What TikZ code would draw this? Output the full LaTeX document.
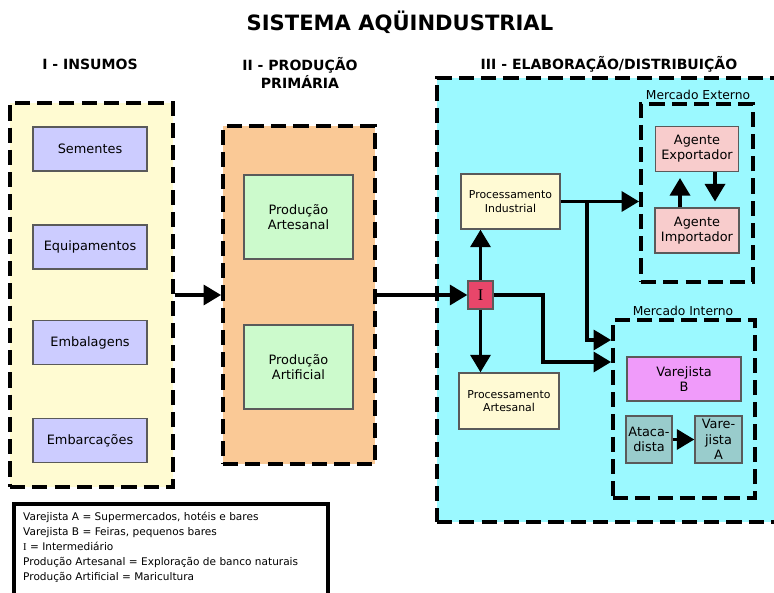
\documentclass[tikz,border=0pt]{standalone}
\usepackage{fontspec}
\setmainfont{DejaVu Sans}
\newfontfamily\romanI{Liberation Serif}
\usetikzlibrary{positioning,arrows.meta}
\definecolor{insumobg}{RGB}{255,251,210}
\definecolor{insumobox}{RGB}{204,204,255}
\definecolor{primbg}{RGB}{250,201,150}
\definecolor{primbox}{RGB}{204,250,204}
\definecolor{elabbg}{RGB}{155,249,255}
\definecolor{procbox}{RGB}{255,250,212}
\definecolor{interred}{RGB}{232,70,106}
\definecolor{agentbox}{RGB}{248,204,204}
\definecolor{varbbox}{RGB}{240,155,250}
\definecolor{atacbox}{RGB}{153,204,204}
\definecolor{boxline}{RGB}{90,90,90}

\begin{document}
\begin{tikzpicture}[x=0.03cm, y=-0.03cm,
    area/.style={draw, line width=3.2pt, dash pattern=on 13pt off 6pt, inner sep=0pt},
    item/.style={draw=boxline, line width=1.1pt, inner sep=0pt, align=center, font=\fontsize{11}{13}\selectfont},
    flow/.style={line width=3.2pt, -{Triangle[length=15pt,width=17pt]}},
    heading/.style={font=\bfseries\fontsize{12}{15}\selectfont, align=center},
    market/.style={font=\fontsize{10.5}{12}\selectfont}]
  \useasboundingbox (0,0) rectangle (774,593);

  \node[font=\bfseries\fontsize{18}{20}\selectfont] (titulo) at (400,22) {SISTEMA AQÜINDUSTRIAL};
  \node[heading] (h1) at (90,64) {I - INSUMOS};
  \node[heading] (h2) at (300,73) {II - PRODUÇÃO\\PRIMÁRIA};
  \node[heading] (h3) at (609,64) {III - ELABORAÇÃO/DISTRIBUIÇÃO};

  % etapas
  \node[area, fill=insumobg, minimum width=4.89cm, minimum height=11.52cm] (insumos) at (91.5,295) {};
  \node[area, fill=primbg, minimum width=4.56cm, minimum height=10.14cm] (primaria) at (299,295) {};
  \node[area, fill=elabbg, minimum width=10.59cm, minimum height=13.32cm] (elab) at (613.5,300) {};
  \node[area, minimum width=3.36cm, minimum height=5.34cm] (mext) at (697,193) {};
  \node[area, minimum width=4.26cm, minimum height=5.34cm] (mint) at (684,409) {};
  \node[market] (mextlabel) at (698,95) {Mercado Externo};
  \node[market] (mintlabel) at (683,311) {Mercado Interno};

  \node[item, fill=insumobox, minimum width=3.42cm, minimum height=1.32cm] (sementes) at (90,149) {Sementes};
  \node[item, fill=insumobox, minimum width=3.42cm, minimum height=1.32cm] (equip) at (90,247) {Equipamentos};
  \node[item, fill=insumobox, minimum width=3.42cm, minimum height=1.32cm] (embal) at (90,342.5) {Embalagens};
  \node[item, fill=insumobox, minimum width=3.42cm, minimum height=1.32cm] (embarc) at (90,440.5) {Embarcações};

  \node[item, fill=primbox, minimum width=3.27cm, minimum height=2.52cm] (partes) at (298.5,217) {Produção\\Artesanal};
  \node[item, fill=primbox, minimum width=3.27cm, minimum height=2.52cm] (partif) at (298.5,367) {Produção\\Artificial};

  \node[item, fill=procbox, minimum width=2.97cm, minimum height=1.65cm, font=\fontsize{9.3}{11.5}\selectfont] (procind) at (510.5,201.5) {Processamento\\Industrial};
  \node[item, fill=procbox, minimum width=3.0cm, minimum height=1.68cm, font=\fontsize{9.3}{11.5}\selectfont] (procart) at (509,401) {Processamento\\Artesanal};
  \node[item, fill=interred, minimum width=0.75cm, minimum height=0.84cm, font=\romanI\fontsize{14}{16}\selectfont] (inter) at (480.5,295) {I};

  \node[item, fill=agentbox, minimum width=2.49cm, minimum height=1.35cm] (exp) at (697,149) {Agente\\Exportador};
  \node[item, fill=agentbox, minimum width=2.52cm, minimum height=1.35cm] (imp) at (697,230.5) {Agente\\Importador};

  \node[item, fill=varbbox, minimum width=3.42cm, minimum height=1.32cm] (varB) at (684,379) {Varejista\\B};
  \node[item, fill=atacbox, minimum width=1.38cm, minimum height=1.41cm] (atac) at (649,439.5) {Ataca-\\dista};
  \node[item, fill=atacbox, minimum width=1.41cm, minimum height=1.41cm] (varA) at (718.5,439.5) {Vare-\\jista\\A};

  \coordinate (inlow) at (543,362);
  \coordinate (split) at (587,201.5);
  \coordinate (inhigh) at (587,340);

  \draw[flow] (insumos) -- (primaria);
  \draw[flow] (primaria) -- (inter);
  \draw[flow] (inter) -- (inter |- procind.south);
  \draw[flow] (inter) -- (inter |- procart.north);
  \draw[flow] (inter) -| (inlow) -- (mint.west |- inlow);
  \draw[flow] (procind) -- (mext.west |- procind);
  \draw[flow] (split) -- (inhigh) -- (mint.west |- inhigh);
  \draw[flow, shorten >=5pt] ([xshift=-0.51cm]imp.north) -- ([xshift=-0.51cm]exp.south);
  \draw[flow, shorten >=5pt] ([xshift=0.54cm]exp.south) -- ([xshift=0.54cm]imp.north);
  \draw[flow] (atac) -- (varA);

  % legenda
  \node[draw, line width=3.2pt, fill=white, minimum width=9.42cm, minimum height=2.94cm, anchor=north west] (legenda) at (12,502) {};
  \node[anchor=north west, align=left, inner sep=0pt, font=\fontsize{9}{12.8}\selectfont] (legendatexto) at (23,512) {Varejista A = Supermercados, hotéis e bares\\
    Varejista B = Feiras, pequenos bares\\
    {\romanI I} = Intermediário\\
    Produção Artesanal = Exploração de banco naturais\\
    Produção Artificial = Maricultura};
\end{tikzpicture}
\end{document}
